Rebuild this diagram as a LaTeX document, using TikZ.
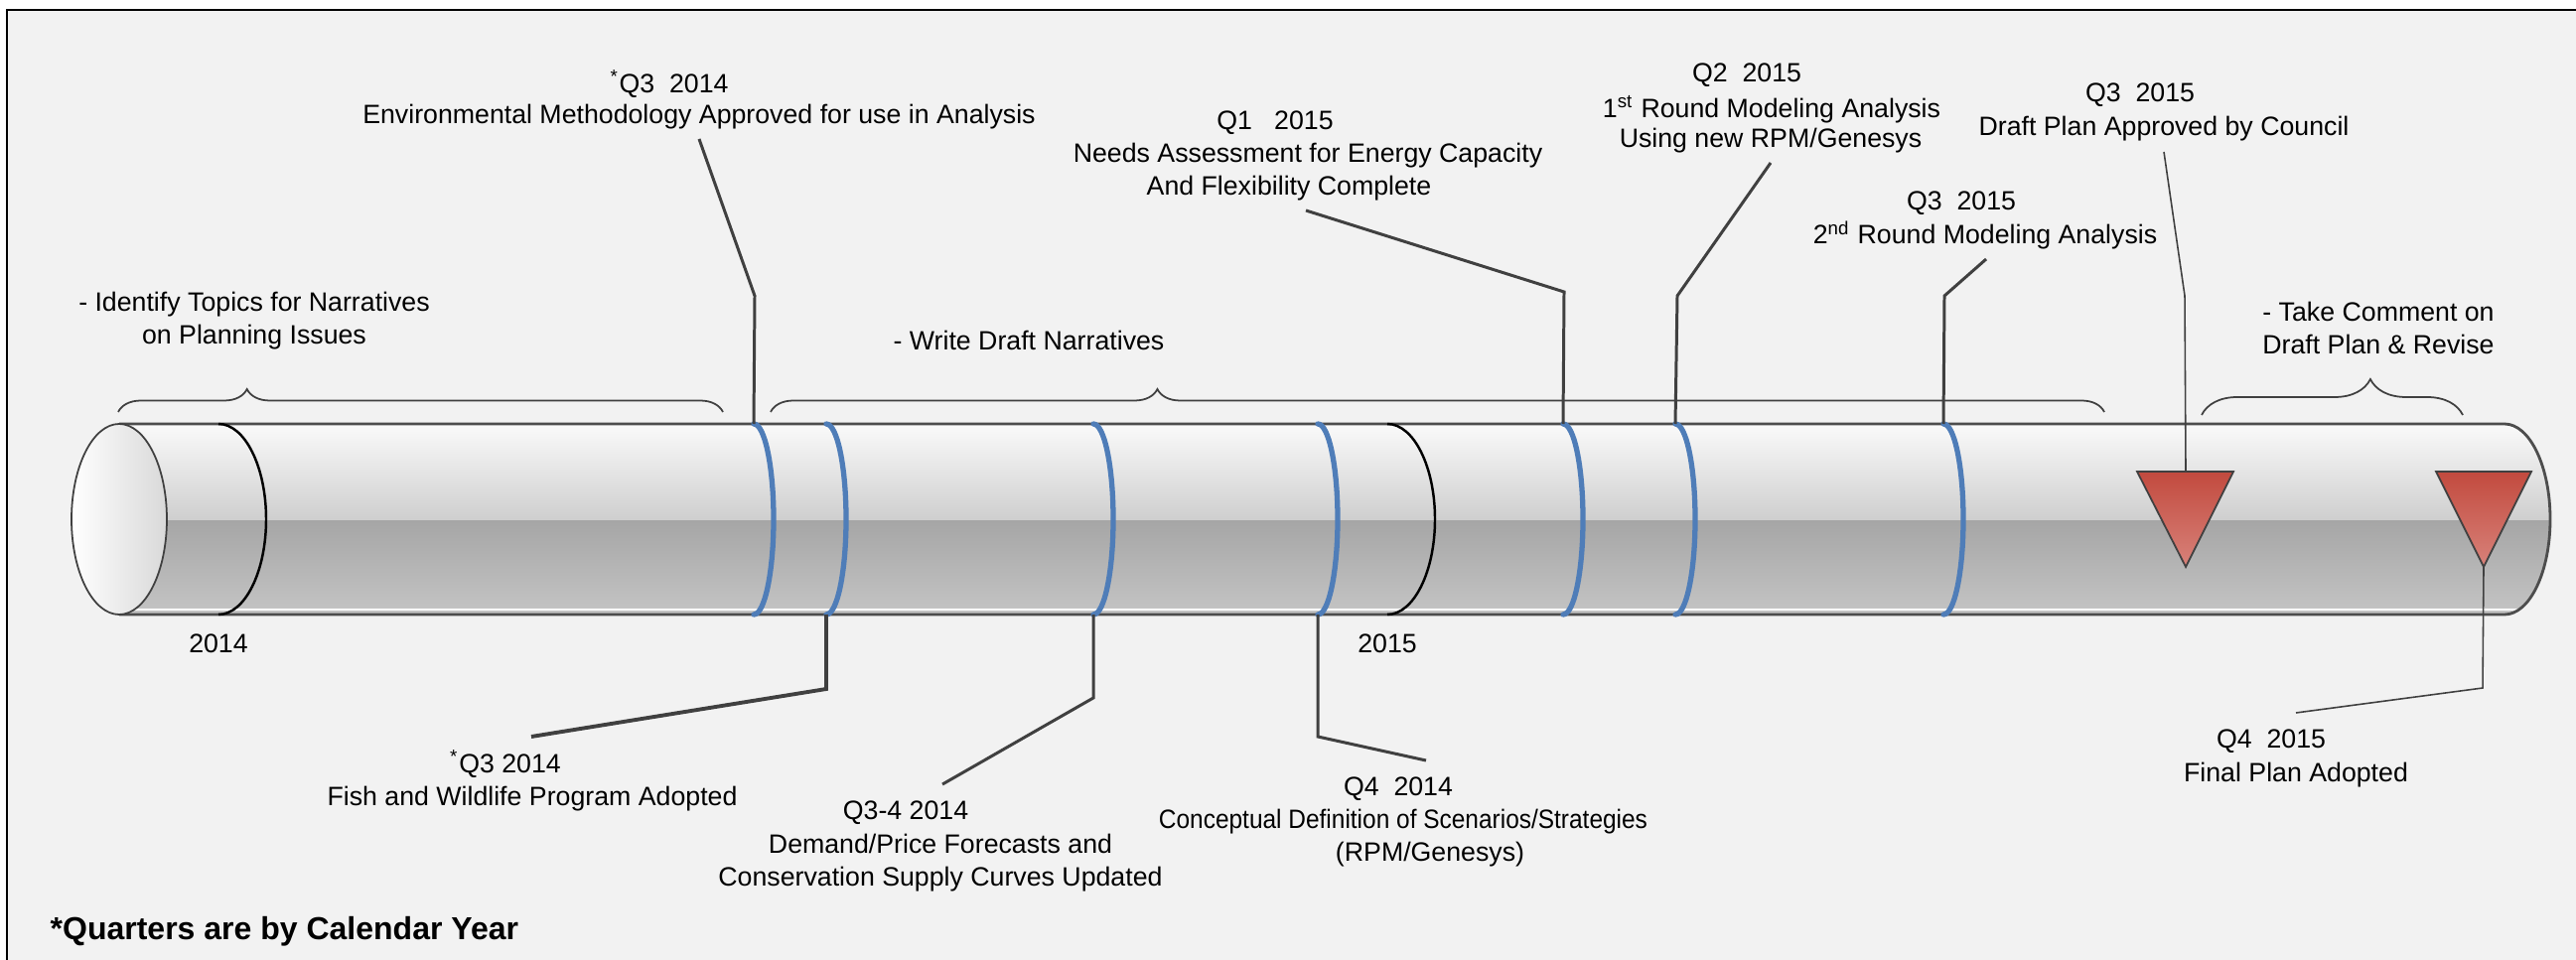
\documentclass[tikz,border=0pt]{standalone}
\usepackage{graphicx}
\usepackage{fontspec}
\setmainfont{Liberation Sans}
\usetikzlibrary{decorations.pathreplacing}
\definecolor{bgc}{HTML}{F2F2F2}
\definecolor{leadc}{HTML}{404040}
\definecolor{markc}{HTML}{4F7DB8}
\definecolor{rimc}{HTML}{4D4D4D}
\definecolor{trtop}{HTML}{C24A3E}
\definecolor{trbot}{HTML}{D8827A}
\tikzset{
  txt/.style={font=\fontsize{7.6}{9.4}\selectfont, align=center, inner sep=0pt, anchor=center, yshift=-0.03cm},
  leader/.style={draw=leadc, line width=0.85pt},
  thinleader/.style={draw=leadc, line width=0.45pt},
  bluemark/.style={draw=markc, line width=1.5pt, line cap=round},
  yeararc/.style={draw=black, line width=0.7pt},
  bracec/.style={draw=leadc, line width=0.5pt, decorate},
  marker/.style={draw=leadc, line width=0.5pt, top color=trtop, bottom color=trbot}
}
\begin{document}
\begin{tikzpicture}[x=0.01cm, y=-0.01cm]
\useasboundingbox (0,0) rectangle (2594,967);
\fill[white] (0,0) rectangle (2594,967);
\fill[bgc] (7,10) rectangle (2594,967);
\draw[black, line width=0.6pt] (7,967) -- (7,10) -- (2594,10);

% cylinder body
\begin{scope}
  \clip (120,427) -- (2522,427) arc[start angle=-90, end angle=90, x radius=46, y radius=96] -- (120,619) -- cycle;
  \shade[top color=white!98!black, bottom color=black!19] (100,427) rectangle (2600,524);
  \shade[top color=black!35, bottom color=black!23] (100,524) rectangle (2600,619);
  \draw[white, line width=0.6pt] (100,614) -- (2600,614);
\end{scope}
\draw[rimc, line width=0.8pt] (120,427) -- (2522,427) arc[start angle=-90, end angle=90, x radius=46, y radius=96] -- (120,619);
\shade[left color=white, right color=black!15, draw=leadc, line width=0.5pt] (120,523) ellipse [x radius=48, y radius=96];

% year arcs
\draw[yeararc] (220,427) arc[start angle=-90, end angle=90, x radius=48, y radius=96];
\draw[yeararc] (1397,427) arc[start angle=-90, end angle=90, x radius=48, y radius=96];

% blue marks
\foreach \mx in {759,832,1101,1327,1574,1687,1957}
  \draw[bluemark] (\mx,427) arc[start angle=-90, end angle=90, x radius=20, y radius=96];

% markers
\path[marker] (2152,475) -- (2249,475) -- (2201,571) -- cycle;
\path[marker] (2453,475) -- (2549,475) -- (2501,571) -- cycle;

% braces
\draw[bracec, decoration={brace, amplitude=0.23cm, aspect=0.213}] (119,415) -- (728,415);
\draw[bracec, decoration={brace, amplitude=0.23cm, aspect=0.29}] (776,415) -- (2119,415);
\draw[bracec, decoration={brace, amplitude=0.36cm, aspect=0.646}] (2217,418) -- (2480,418);

% texts
\node[txt] (envq) at (674,82) {\textsuperscript{*}Q3\ \ 2014};
\node[txt] (env) at (704,115) {Environmental Methodology Approved for use in Analysis};
\node[txt] (ident) at (256,320) {- Identify Topics for Narratives\\on Planning Issues};
\node[txt] (write) at (1036,340) {- Write Draft Narratives};
\node[txt] (needq) at (1284,121) {Q1\ \ \ 2015};
\node[txt] (need1) at (1317,154) {Needs Assessment for Energy Capacity};
\node[txt] (need2) at (1298,187) {And Flexibility Complete};
\node[txt] (firstq) at (1759,73) {Q2\ \ 2015};
\node[txt] (first1) at (1784,107) {1\textsuperscript{st} Round Modeling Analysis};
\node[txt] (first2) at (1783,139) {Using new RPM/Genesys};
\node[txt] (draftq) at (2155,93) {Q3\ \ 2015};
\node[txt] (draft) at (2179,127) {Draft Plan Approved by Council};
\node[txt] (secq) at (1975,202) {Q3\ \ 2015};
\node[txt] (sec) at (1999,234) {2\textsuperscript{nd} Round Modeling Analysis};
\node[txt] (take) at (2395,327) {- Take Comment on\\Draft Plan \& Revise};
\node[txt] (fishq) at (509,767) {\textsuperscript{*}Q3 2014};
\node[txt] (fish) at (536,802) {Fish and Wildlife Program Adopted};
\node[txt] (demq) at (912,816) {Q3-4 2014};
\node[txt] (dem) at (947,866) {Demand/Price Forecasts and\\Conservation Supply Curves Updated};
\node[txt] (concq) at (1408,792) {Q4\ \ 2014};
\node[txt] (conc1) at (1413,825) {\scalebox{0.915}[1]{Conceptual Definition of Scenarios/Strategies}};
\node[txt] (conc2) at (1440,858) {(RPM/Genesys)};
\node[txt] (y14) at (220,645) {2014};
\node[txt] (y15) at (1397,645) {2015};
\node[txt] (finq) at (2287,744) {Q4\ \ 2015};
\node[txt] (fin) at (2312,778) {Final Plan Adopted};
\node[txt, anchor=west, font=\fontsize{9.1}{11}\selectfont\bfseries] (note) at (50,935) {*Quarters are by Calendar Year};

% leader coordinates
\coordinate (envA) at (704,140); \coordinate (envB) at (760,298); \coordinate (envC) at (759,427);
\coordinate (needA) at (1315,212); \coordinate (needB) at (1575,294); \coordinate (needC) at (1574,427);
\coordinate (firstA) at (1783,164); \coordinate (firstB) at (1689,298); \coordinate (firstC) at (1687,427);
\coordinate (secA) at (2000,261); \coordinate (secB) at (1958,298); \coordinate (secC) at (1957,427);
\coordinate (draftA) at (2179,153); \coordinate (draftB) at (2200,298); \coordinate (draftC) at (2201,475);
\coordinate (fishA) at (832,619); \coordinate (fishB) at (832,694); \coordinate (fishC) at (535,742);
\coordinate (demA) at (1101,619); \coordinate (demB) at (1101,703); \coordinate (demC) at (949,790);
\coordinate (concA) at (1327,619); \coordinate (concB) at (1327,742); \coordinate (concC) at (1436,766);
\coordinate (finA) at (2501,571); \coordinate (finB) at (2500,693); \coordinate (finC) at (2312,718);

\draw[leader] (envA) -- (envB) -- (envC);
\draw[leader] (needA) -- (needB) -- (needC);
\draw[leader] (firstA) -- (firstB) -- (firstC);
\draw[leader] (secA) -- (secB) -- (secC);
\draw[thinleader] (draftA) -- (draftB) -- (draftC);
\draw[leader, line width=1.1pt] (fishA) -- (fishB) -- (fishC);
\draw[leader] (demA) -- (demB) -- (demC);
\draw[leader] (concA) -- (concB) -- (concC);
\draw[thinleader] (finA) -- (finB) -- (finC);
\end{tikzpicture}
\end{document}
